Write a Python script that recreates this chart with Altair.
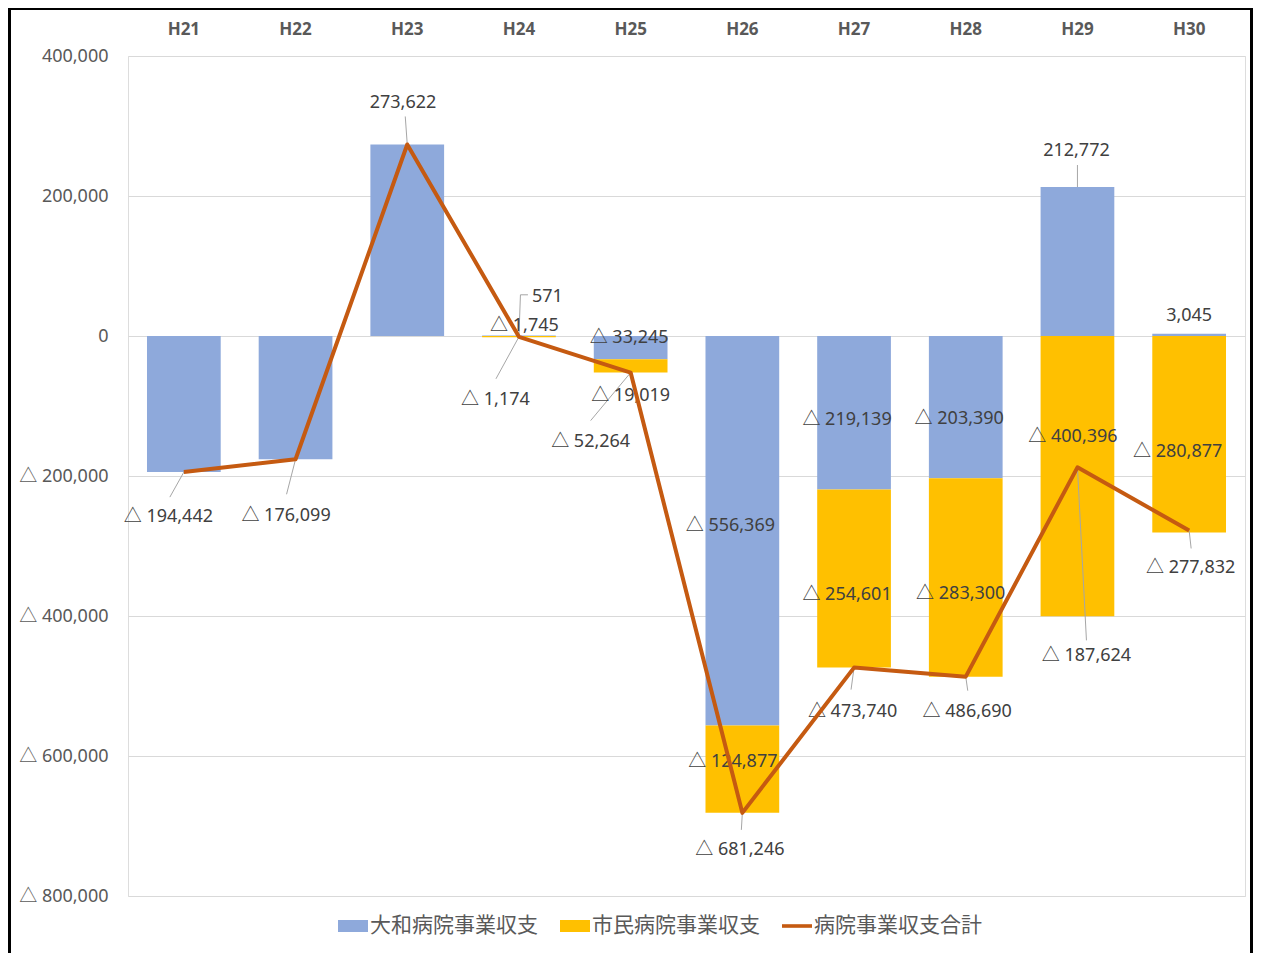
import altair as alt
import pandas as pd

# ---------------- data ----------------
years = ["H21", "H22", "H23", "H24", "H25", "H26", "H27", "H28", "H29", "H30"]
yamato = [-194442, -176099, 273622, 571, -33245, -556369, -219139, -203390, 212772, 3045]
shimin = [0, 0, 0, -1745, -19019, -124877, -254601, -283300, -400396, -280877]
total = [-194442, -176099, 273622, -1174, -52264, -681246, -473740, -486690, -187624, -277832]

series_names = ["大和病院事業収支", "市民病院事業収支", "病院事業収支合計"]
series_colors = ["#8EA9DB", "#FFC000", "#C55A11"]

# ---------------- layout / style ----------------
W, H = 1117, 840
Y_MIN, Y_MAX = -800000, 400000
PX_X = len(years) / W            # band units per pixel
PX_V = (Y_MAX - Y_MIN) / H       # value units per pixel
NUM_FONT = "Noto Sans, Noto Sans CJK JP"
JP_FONT = "Noto Sans CJK JP"

# label nudges in pixels (dx, dy) relative to each label's anchor
blue_off = {"H24": (28.5, -41), "H25": (-1.5, -12), "H26": (-12, -7), "H27": (-7, 5),
            "H28": (-6.5, 10), "H29": (-1, -112.5), "H30": (0, -21)}
yellow_off = {"H24": (5.5, -12.6), "H25": (0, 28), "H26": (-9.5, -9), "H27": (-7, 14.5),
              "H28": (-5, 14.5), "H29": (-4.5, -41), "H30": (-11.5, 15.7)}
total_off = {"H21": (-15.5, 43), "H22": (-9.5, 54.7), "H23": (-4.25, -43.5), "H24": (-23.5, 61.5),
             "H25": (-40, 67.5), "H26": (-2.5, 35), "H27": (-1.5, 42.4), "H28": (1.5, 33.3),
             "H29": (9, 186.7), "H30": (1.5, 35.5)}
# leader polylines (pixel offsets from the label anchor)
leaders = [
    ("total", "H21", [(0, 0), (-14, 25)]),
    ("total", "H22", [(0, 0), (-9, 35)]),
    ("total", "H23", [(0, 0), (-2, -28)]),
    ("total", "H24", [(0, 0), (-23, 42)]),
    ("yamato", "H24", [(0, 0), (1.5, -41), (9, -41)]),
    ("total", "H25", [(0, 0), (-40, 48)]),
    ("total", "H26", [(0, 0), (-1, 17)]),
    ("total", "H27", [(0, 0), (-3, 22)]),
    ("total", "H28", [(0, 0), (2, 14)]),
    ("total", "H29", [(0, 0), (9, 173)]),
    ("yamato", "H29", [(0, -74.5), (0, -96.5)]),
    ("total", "H30", [(0, 0), (2, 18)]),
]


def fmt(v):
    return "△ " + f"{-v:,}" if v < 0 else f"{v:,}"


# anchors in data units
anchors = {}
for i, yr in enumerate(years):
    b, s, t = yamato[i], shimin[i], total[i]
    anchors[("yamato", yr)] = (i + 0.5, b / 2, b)
    base = b if (b < 0 and s < 0) else 0
    anchors[("shimin", yr)] = (i + 0.5, base + s / 2, s)
    anchors[("total", yr)] = (i + 0.5, t, t)

# bars
bar_rows = []
for i, yr in enumerate(years):
    if yamato[i] != 0:
        bar_rows.append({"year": yr, "series": series_names[0], "value": yamato[i], "ord": 0})
    if shimin[i] != 0:
        bar_rows.append({"year": yr, "series": series_names[1], "value": shimin[i], "ord": 1})
bars_df = pd.DataFrame(bar_rows)

# line
line_df = pd.DataFrame({"x": [i + 0.5 for i in range(len(years))],
                        "value": total,
                        "series": series_names[2]})

# labels
lab_rows = []
for key, offs in (("yamato", blue_off), ("shimin", yellow_off), ("total", total_off)):
    for yr, (dx, dy) in offs.items():
        ax, av, raw = anchors[(key, yr)]
        lab_rows.append({"x": ax + dx * PX_X, "value": av - dy * PX_V, "text": fmt(raw)})
labels_df = pd.DataFrame(lab_rows)

# leader segments
seg_rows = []
for key, yr, pts in leaders:
    ax, av, _ = anchors[(key, yr)]
    for (dx1, dy1), (dx2, dy2) in zip(pts[:-1], pts[1:]):
        seg_rows.append({"x": ax + dx1 * PX_X, "value": av - dy1 * PX_V,
                         "x2": ax + dx2 * PX_X, "value2": av - dy2 * PX_V})
seg_df = pd.DataFrame(seg_rows)

# ---------------- scales / axes ----------------
yscale = alt.Scale(domain=[Y_MIN, Y_MAX], nice=False, zero=False)
yaxis = alt.Axis(
    title=None,
    values=list(range(Y_MIN, Y_MAX + 1, 200000)),
    labelExpr="datum.value < 0 ? '△ ' + format(-datum.value, ',') : format(datum.value, ',')",
    labelFont=NUM_FONT, labelFontSize=18, labelColor="#595959",
    ticks=False, tickSize=0, domain=False, labelPadding=20,
    gridColor="#d9d9d9", gridWidth=1,
)
xaxis = alt.Axis(
    orient="top", title=None, labelAngle=0, labelFont="Noto Sans", labelFontSize=17,
    labelFontWeight="bold", labelColor="#595959", ticks=False, tickSize=0,
    domain=False, labelPadding=18, grid=False,
)
xq = alt.Scale(domain=[0, len(years)], nice=False, zero=False)
color_scale = alt.Scale(domain=series_names, range=series_colors)
legend = alt.Legend(
    title=None, orient="none", legendX=210, legendY=855, direction="horizontal",
    symbolSize=900, labelFont=JP_FONT, labelFontSize=21, labelColor="#595959",
    labelOffset=2, columnPadding=22, symbolStrokeWidth=0, symbolOpacity=1,
    labelLimit=0,
    symbolType={"expr": "datum.label === '" + series_names[2] +
                "' ? 'M-1,-0.12H1V0.12H-1Z' : 'M-1,-0.4H1V0.4H-1Z'"},
)

# ---------------- marks ----------------
bars = alt.Chart(bars_df).mark_bar().encode(
    x=alt.X("year:N", sort=years, scale=alt.Scale(paddingInner=0.34, paddingOuter=0.17), axis=xaxis),
    y=alt.Y("value:Q", stack="zero", scale=yscale, axis=yaxis),
    color=alt.Color("series:N", scale=color_scale, legend=legend),
    order=alt.Order("ord:Q"),
)

leader_marks = alt.Chart(seg_df).mark_rule(color="#a6a6a6", strokeWidth=1).encode(
    x=alt.X("x:Q", scale=xq, axis=None),
    x2="x2:Q",
    y=alt.Y("value:Q", scale=yscale, axis=yaxis),
    y2="value2:Q",
)

texts = alt.Chart(labels_df).mark_text(
    font=NUM_FONT, fontSize=18, color="#404040", align="center", baseline="middle", dy=2
).encode(
    x=alt.X("x:Q", scale=xq, axis=None),
    y=alt.Y("value:Q", scale=yscale, axis=yaxis),
    text="text:N",
)

line = alt.Chart(line_df).mark_line(strokeWidth=4, strokeJoin="round").encode(
    x=alt.X("x:Q", scale=xq, axis=None),
    y=alt.Y("value:Q", scale=yscale, axis=yaxis),
    color=alt.Color("series:N", scale=color_scale, legend=None),
)

border = alt.Chart(pd.DataFrame({"k": [0]})).mark_rect(
    fillOpacity=0, stroke="black", strokeWidth=3
).encode(
    x=alt.value(-118.5), x2=alt.value(1123.5), y=alt.value(-47.5), y2=alt.value(980)
)

overlay = alt.layer(leader_marks, texts, line, border)

chart = alt.layer(bars, overlay).resolve_scale(x="independent").properties(
    width=W, height=H,
    autosize=alt.AutoSizeParams(type="none"),
    padding={"left": 120, "top": 48, "right": 8, "bottom": 57},
).configure_view(strokeWidth=0).configure(background="white")

chart.save("out.html", embed_options={"renderer": "svg", "actions": False})
